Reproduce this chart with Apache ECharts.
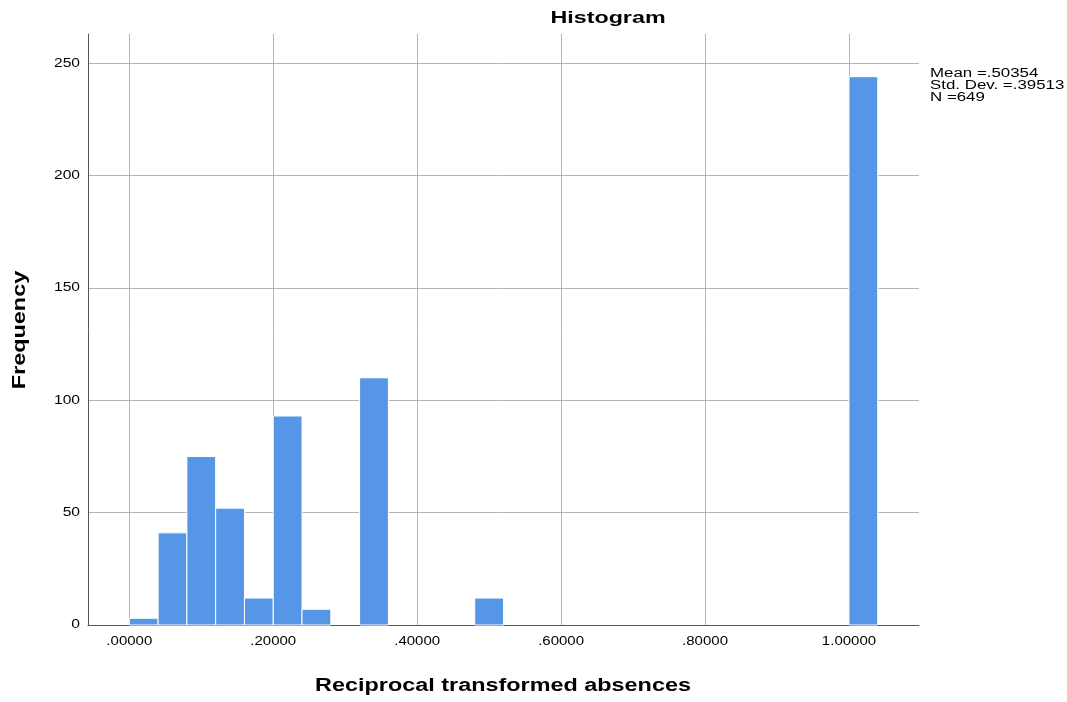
<!DOCTYPE html>
<html><head><meta charset="utf-8">
<script src="https://cdn.jsdelivr.net/npm/echarts@6/dist/echarts.min.js"></script>
<style>html,body{margin:0;padding:0;background:#fff}#c{width:1067px;height:702px}</style>
</head><body><div id="c"></div>
<script>
const binStarts = [0.00, 0.04, 0.08, 0.12, 0.16, 0.20, 0.24, 0.32, 0.48, 1.00];
const frequencies = [3, 41, 75, 52, 12, 93, 7, 110, 12, 244];
const binWidth = 0.04;
const xTicks = [0, 0.2, 0.4, 0.6, 0.8, 1.0];
const yTicks = [0, 50, 100, 150, 200, 250];
const statsLines = ['Mean =.50354', 'Std. Dev. =.39513', 'N =649'];
const titleText = 'Histogram';
const xName = 'Reciprocal transformed absences';
const yName = 'Frequency';

const FONT = 'Liberation Sans';
const fmt = v => { const s = v.toFixed(5); return s.startsWith('0') ? s.slice(1) : s; };
const chart = echarts.init(document.getElementById('c'), null, {renderer: 'canvas'});
const data = binStarts.map((s, i) => [s, s + binWidth, frequencies[i]]);
chart.setOption({
  animation: false,
  textStyle: {fontFamily: FONT},
  grid: {left: 88, right: 148, top: 34, bottom: 77},
  xAxis: {type: 'value', min: -0.0574, max: 1.0973,
    axisLine: {show: true, onZero: false, lineStyle: {color: '#555', width: 1}},
    axisTick: {show: false, customValues: xTicks},
    axisLabel: {show: false, customValues: xTicks},
    splitLine: {show: true, showMinLine: true, showMaxLine: true, lineStyle: {color: '#b4b4b4', width: 1}}},
  yAxis: {type: 'value', min: 0, max: 263,
    axisLine: {show: true, onZero: false, lineStyle: {color: '#555', width: 1}},
    axisTick: {show: false, customValues: yTicks},
    axisLabel: {show: false, customValues: yTicks},
    splitLine: {show: true, showMinLine: false, showMaxLine: true, lineStyle: {color: '#b4b4b4', width: 1}}},
  series: [{type: 'custom', data: data, encode: {x: [0, 1], y: 2},
    renderItem: (params, api) => {
      const p0 = api.coord([api.value(0), 0]);
      const p1 = api.coord([api.value(1), api.value(2)]);
      return {type: 'rect', shape: {x: p0[0], y: p1[1], width: p1[0] - p0[0], height: p0[1] - p1[1]},
        style: {fill: '#5596e6', stroke: '#ffffff', lineWidth: 1}};
    }}]
});

// Text in the reference is horizontally stretched; draw it as scaled text elements.
function txt(text, x, y, size, bold, sx, align, vAlign, rot, lh) {
  return {type: 'text', x: x, y: y, scaleX: sx, rotation: rot || 0, z: 10,
    style: {text: text, x: 0, y: 0, fill: '#000', align: align, verticalAlign: vAlign,
      font: (bold ? 'bold ' : '') + size + 'px ' + FONT, lineHeight: lh || size}};
}
const g = [];
g.push(txt(titleText, 608, 18, 17, true, 1.37, 'center', 'middle'));
g.push(txt(xName, 503, 686, 18, true, 1.3, 'center', 'middle'));
g.push(txt(yName, 20, 330, 18, true, 1.3, 'center', 'middle', Math.PI / 2));
g.push(txt(statsLines.join('\n'), 930, 68, 12.5, false, 1.35, 'left', 'top', 0, 12));
const yBase = chart.convertToPixel({yAxisIndex: 0}, 0);
xTicks.forEach(v => {
  const px = chart.convertToPixel({xAxisIndex: 0}, v);
  g.push(txt(fmt(v), px, yBase + 17, 12, false, 1.25, 'center', 'middle'));
});
yTicks.forEach(v => {
  const py = chart.convertToPixel({yAxisIndex: 0}, v);
  g.push(txt(String(v), 80, py, 12, false, 1.3, 'right', 'middle'));
});
chart.setOption({graphic: g});
</script></body></html>
